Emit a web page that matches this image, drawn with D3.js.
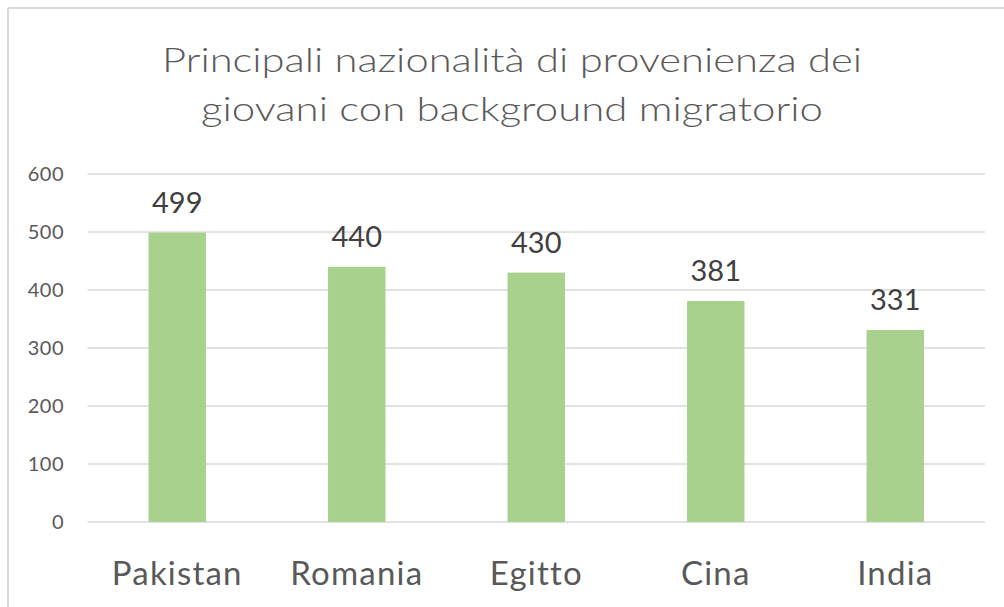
<!DOCTYPE html>
<html><head><meta charset="utf-8">
<script src="https://cdn.jsdelivr.net/npm/d3@7"></script>
<style>
html,body{margin:0;padding:0;background:#fff;}
svg{display:block;}
</style></head>
<body>
<svg id="c" width="1004" height="607"></svg>
<script>
const categories = ["Pakistan", "Romania", "Egitto", "Cina", "India"];
const values = [499, 440, 430, 381, 331];
const yTicks = [0, 100, 200, 300, 400, 500, 600];
const titleLines = ["Principali nazionalità di provenienza dei", "giovani con background migratorio"];

(function () {
const svg = d3.select("#c");
const font = "Lato, 'Open Sans', 'DejaVu Sans', sans-serif";

// frame
svg.append("line").attr("x1", 8).attr("x2", 1004).attr("y1", 8).attr("y2", 8)
  .attr("stroke", "#d9d9d9").attr("stroke-width", 2);
svg.append("line").attr("x1", 8).attr("x2", 8).attr("y1", 8).attr("y2", 607)
  .attr("stroke", "#d9d9d9").attr("stroke-width", 2);

const pl = 87.5, pr = 985, pt = 174, pb = 522;
const x = d3.scaleBand().domain(categories).range([pl, pr]).paddingInner(0.68).paddingOuter(0.34);
const y = d3.scaleLinear().domain([0, 600]).range([pb, pt]);

// gridlines
svg.append("g").selectAll("line").data(yTicks).join("line")
  .attr("x1", pl).attr("x2", pr)
  .attr("y1", d => y(d)).attr("y2", d => y(d))
  .attr("stroke", "#d9d9d9").attr("stroke-width", 1.5);

// y axis labels
const yAxis = d3.axisLeft(y).tickValues(yTicks).tickSize(0).tickPadding(0);
const ga = svg.append("g").attr("transform", "translate(64,0)").call(yAxis);
ga.select(".domain").remove();
ga.selectAll("text").attr("font-family", font).attr("font-size", 20).attr("fill", "#595959")
  .attr("letter-spacing", 0.5);

// bars
svg.append("g").selectAll("rect").data(values).join("rect")
  .attr("x", (d, i) => x(categories[i]))
  .attr("width", x.bandwidth())
  .attr("y", d => y(d))
  .attr("height", d => y(0) - y(d))
  .attr("fill", "#a9d18e");

// value labels
svg.append("g").selectAll("text").data(values).join("text")
  .attr("x", (d, i) => x(categories[i]) + x.bandwidth() / 2)
  .attr("y", d => y(d) - 20)
  .attr("text-anchor", "middle")
  .attr("font-family", font).attr("font-size", 29).attr("fill", "#404040")
  .text(d => d);

// category labels
const xAxis = d3.axisBottom(x).tickSize(0).tickPadding(0);
const gx = svg.append("g").attr("transform", "translate(0," + pb + ")").call(xAxis);
gx.select(".domain").remove();
gx.selectAll("text").attr("font-family", font).attr("font-size", 33).attr("fill", "#595959")
  .attr("letter-spacing", 1.2)
  .attr("dy", null).attr("y", 63);

// title
const tw = [700, 622];
svg.append("g").selectAll("text").data(titleLines).join("text")
  .attr("x", 512).attr("y", (d, i) => 72 + i * 49)
  .attr("text-anchor", "middle")
  .attr("font-family", font).attr("font-weight", 300).attr("font-size", 34).attr("fill", "#595959")
  .text(d => d)
  .attr("textLength", (d, i) => tw[i]).attr("lengthAdjust", "spacingAndGlyphs");
})();
</script>
</body></html>
